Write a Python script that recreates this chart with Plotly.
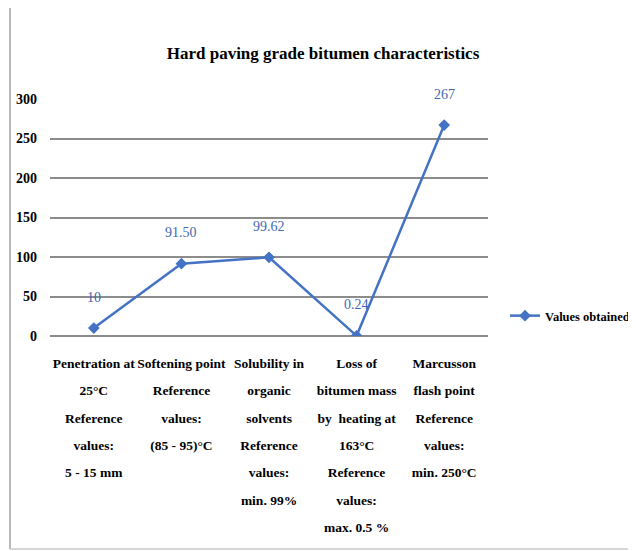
import plotly.graph_objects as go

categories = [
    "Penetration at<br>25°C<br>Reference<br>values:<br>5 - 15 mm",
    "Softening point<br>Reference<br>values:<br>(85 - 95)°C",
    "Solubility in<br>organic<br>solvents<br>Reference<br>values:<br>min. 99%",
    "Loss of<br>bitumen mass<br>by  heating at<br>163°C<br>Reference<br>values:<br>max. 0.5 %",
    "Marcusson<br>flash point<br>Reference<br>values:<br>min. 250°C",
]
values = [10, 91.50, 99.62, 0.24, 267]
value_labels = ["10", "91.50", "99.62", "0.24", "267"]
series_name = "Values obtained"
title_text = "Hard paving grade bitumen characteristics"
y_ticks = [0, 50, 100, 150, 200, 250, 300]

FONT = "Liberation Serif"
BLUE = "#4472C4"

# page body has an 8px margin; compensate
OFF = 8
L, T = 50 - OFF, 99 - OFF
PW, PH = 438, 237
W, H = 636, 551


def px_x(p):
    return (p - 50) / PW


def px_y(p):
    return (336 - p) / PH


def condensed(label, size=13.5):
    return "<br>".join(f"<span style='font-size:{size}px'>{ln}</span>"
                       for ln in label.split("<br>"))


fig = go.Figure()
fig.add_trace(go.Scatter(
    x=categories, y=values, mode="lines+markers", name=series_name,
    line=dict(color=BLUE, width=2.5),
    marker=dict(symbol="diamond", size=9, color=BLUE),
))

for c, v, t in zip(categories, values, value_labels):
    fig.add_annotation(x=c, y=v, text=t, showarrow=False, yshift=31,
                       font=dict(family=FONT, size=14, color="#4168b0"))

fig.update_layout(
    width=W, height=H,
    paper_bgcolor="white", plot_bgcolor="white",
    margin=dict(l=L, r=W - L - PW, t=T, b=H - T - PH, autoexpand=False),
    title=dict(text=title_text, x=(323 - OFF) / W, xanchor="center",
               y=1 - (53 - OFF) / H, yanchor="middle",
               font=dict(family=FONT, size=17, color="black", weight="bold")),
    showlegend=True,
    legend=dict(x=px_x(505), y=px_y(316), xanchor="left", yanchor="middle",
                font=dict(family=FONT, size=12.5, color="black", weight="bold"),
                bgcolor="rgba(0,0,0,0)", itemwidth=30),
    font=dict(family=FONT, color="black"),
)
fig.update_xaxes(showgrid=False, showline=False, ticks="", zeroline=False,
                 range=[-0.5, len(categories) - 0.5],
                 tickmode="array", tickvals=categories,
                 ticktext=[condensed(c) for c in categories],
                 tickfont=dict(family=FONT, size=21, color="black", weight="bold"),
                 tickangle=0, ticklabelstandoff=10)
fig.update_yaxes(range=[0, 300], tickvals=y_ticks, showgrid=True,
                 gridcolor="#8c8c8c", gridwidth=1.5, zeroline=True,
                 zerolinecolor="#8c8c8c", zerolinewidth=1.5, showline=False,
                 tickfont=dict(family=FONT, size=14, color="black", weight="bold"),
                 ticklabelstandoff=12)

fig.add_shape(type="line", xref="paper", yref="paper", x0=px_x(10), x1=px_x(10),
              y0=px_y(549), y1=px_y(-10), line=dict(color="#a0a0a0", width=1.5))
fig.add_shape(type="line", xref="paper", yref="paper", x0=px_x(10), x1=px_x(660),
              y0=px_y(549), y1=px_y(549), line=dict(color="#c8c8c8", width=1.5))

fig.write_html("out.html")
